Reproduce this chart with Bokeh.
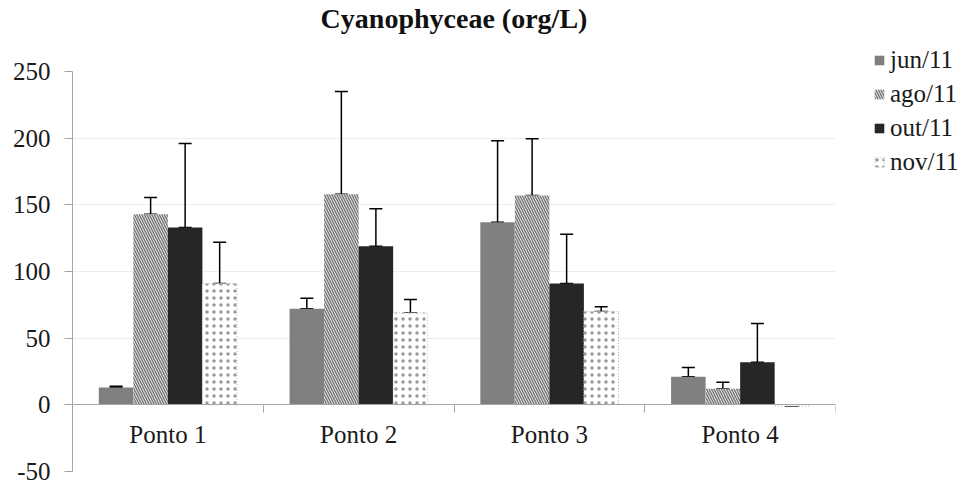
from bokeh.plotting import figure
from bokeh.models import (ColumnDataSource, Range1d, FixedTicker, Whisker, TeeHead,
                          Legend, LegendItem, Title)
from bokeh.embed import file_html
from bokeh.resources import INLINE

# ---- data ----
categories = ["Ponto 1", "Ponto 2", "Ponto 3", "Ponto 4"]
series = ["jun/11", "ago/11", "out/11", "nov/11"]
jun = [13, 72, 137, 21]
ago = [143, 158, 157, 12]
out = [133, 119, 91, 32]
nov = [91, 69, 70, -1]
jun_err = [1, 8, 61, 7]
ago_err = [12.5, 77, 42.5, 5]
out_err = [63, 28, 37, 29]
nov_err = [31, 10, 3.5, 0]
y_ticks = [-50, 0, 50, 100, 150, 200, 250]
title_text = "Cyanophyceae (org/L)"

values = [jun, ago, out, nov]
errors = [jun_err, ago_err, out_err, nov_err]

FONT = "Liberation Serif"
GRAY_AXIS = "#a6a6a6"
bar_w = 0.181

p = figure(frame_width=763, frame_height=400, min_border_left=72, min_border_right=122,
           min_border_top=71, min_border_bottom=14,
           x_range=Range1d(0, 4), y_range=Range1d(-50, 250),
           output_backend="svg", toolbar_location=None)
p.outline_line_color = None
p.background_fill_color = "white"
p.border_fill_color = "white"

# spacer between frame and title (nearest to the frame), then the title
p.add_layout(Title(text=" ", text_font_size="20px", standoff=12), "above")
p.add_layout(Title(text=title_text, align="center", vertical_align="top",
                   text_font=FONT, text_font_size="28px", text_font_style="bold",
                   text_color="#111111", standoff=0), "above")

styles = [
    dict(fill_color="#808080", line_color=None),
    dict(fill_color="white", line_color=None, hatch_pattern="left_diagonal_line",
         hatch_color="#7a7a7a", hatch_scale=5, hatch_weight=1.6),
    dict(fill_color="#262626", line_color=None),
    dict(fill_color="white", line_color="#b8b8b8", line_dash="1 2", line_width=1,
         hatch_pattern="dot", hatch_color="#999999", hatch_scale=7, hatch_weight=1),
]

centers = [i + 0.5 for i in range(len(categories))]
renderers = []
for j, (name, vals, errs, st) in enumerate(zip(series, values, errors, styles)):
    xs = [c + (j - 1.5) * bar_w for c in centers]
    src = ColumnDataSource(dict(x=xs, top=vals,
                                lower=vals,
                                upper=[v + e for v, e in zip(vals, errs)]))
    r = p.vbar(x="x", top="top", bottom=0, width=bar_w, source=src, **st)
    renderers.append(r)
    w = Whisker(base="x", lower="lower", upper="upper", source=src,
                line_color="black", line_width=1.5,
                upper_head=TeeHead(size=13, line_color="black", line_width=1.5),
                lower_head=TeeHead(size=13, line_color="black", line_width=1.5))
    p.add_layout(w)

# y axis
yax = p.yaxis[0]
yax.ticker = FixedTicker(ticks=y_ticks)
yax.major_label_overrides = {t: str(t) for t in y_ticks}
yax.axis_line_color = GRAY_AXIS
yax.major_tick_line_color = GRAY_AXIS
yax.major_tick_out = 8
yax.major_tick_in = 0
yax.minor_tick_line_color = None
yax.major_label_text_font = FONT
yax.major_label_text_font_size = "25px"
yax.major_label_text_color = "#1a1a1a"
yax.major_label_standoff = 14

# x axis at y = 0
xax = p.xaxis[0]
xax.fixed_location = 0
xax.ticker = FixedTicker(ticks=centers, minor_ticks=list(range(len(categories) + 1)))
xax.major_label_overrides = {c: cat for c, cat in zip(centers, categories)}
xax.axis_line_color = GRAY_AXIS
xax.major_tick_line_color = None
xax.major_tick_out = 0
xax.major_tick_in = 0
xax.minor_tick_line_color = GRAY_AXIS
xax.minor_tick_out = 8
xax.minor_tick_in = 0
xax.major_label_text_font = FONT
xax.major_label_text_font_size = "25px"
xax.major_label_text_color = "#1a1a1a"
xax.major_label_standoff = 8

p.xgrid.grid_line_color = None
p.ygrid.ticker = FixedTicker(ticks=y_ticks)
p.ygrid.grid_line_color = "#ededed"
p.ygrid.grid_line_width = 1

legend = Legend(items=[LegendItem(label=s, renderers=[r]) for s, r in zip(series, renderers)],
                location=(38, 294))
legend.glyph_width = 12
legend.glyph_height = 12
legend.label_text_font = FONT
legend.label_text_font_size = "25px"
legend.label_text_color = "#1a1a1a"
legend.label_standoff = 5
legend.label_height = 30
legend.spacing = 4
legend.padding = 0
legend.margin = 0
legend.border_line_color = None
legend.background_fill_alpha = 0
p.add_layout(legend, "right")

open("out.html", "w").write(file_html(p, INLINE))
